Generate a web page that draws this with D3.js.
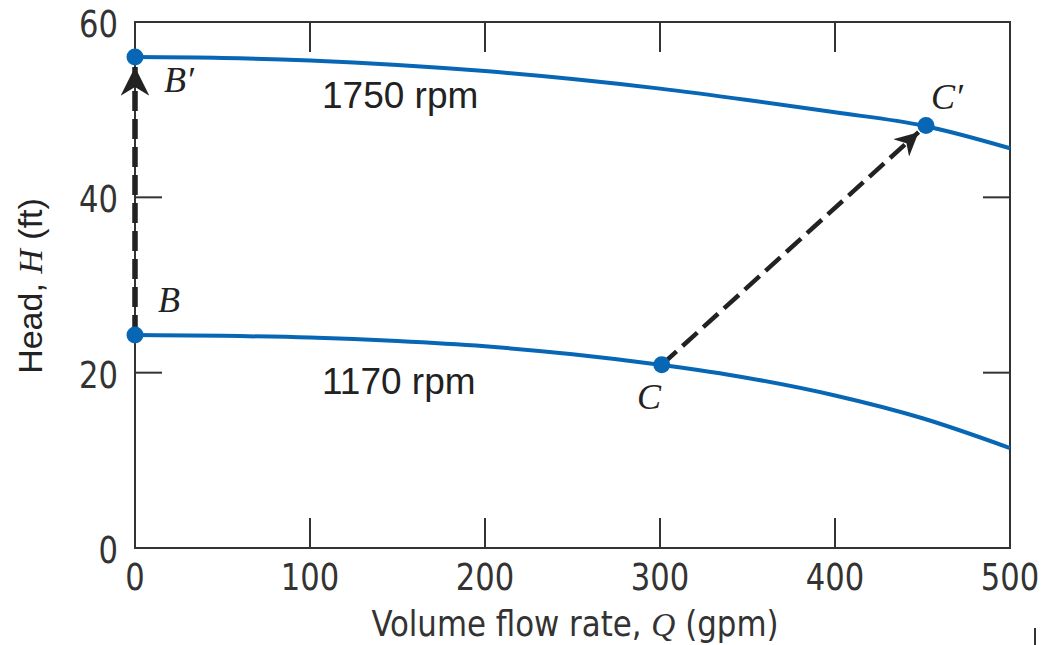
<!DOCTYPE html>
<html>
<head>
<meta charset="utf-8">
<script src="https://cdn.jsdelivr.net/npm/d3@7"></script>
<style>
  body { margin: 0; background: #fff; }
  .narrow { font-family: "Liberation Sans Narrow", "DejaVu Sans Condensed", "Roboto", sans-serif; fill: #333; }
  .ital { font-family: "Liberation Serif", "DejaVu Serif", serif; font-style: italic; }
</style>
</head>
<body>
<div id="chart"></div>
<script>
// Pump head curves at two speeds
var flowQ = [0, 50, 100, 150, 200, 250, 300, 350, 400, 450, 500];
var head1750 = [56.0, 55.9, 55.6, 55.1, 54.4, 53.5, 52.4, 51.1, 49.7, 48.2, 45.6];
var head1170 = [24.3, 24.2, 24.0, 23.6, 23.0, 22.1, 20.9, 19.4, 17.4, 14.8, 11.4];
var xTicks = [0, 100, 200, 300, 400, 500];
var yTicks = [0, 20, 40, 60];
var points = [
  { name: "B", q: 0, h: 24.3 },
  { name: "B\u2032", q: 0, h: 56.0 },
  { name: "C", q: 301, h: 20.9 },
  { name: "C\u2032", q: 452, h: 48.2 }
];

var width = 1048, height = 645;
var mLeft = 135, mRight = 1010, mTop = 22, mBottom = 548;

var svg = d3.select("#chart")
  .append("svg")
    .attr("width", width)
    .attr("height", height)
    .attr("viewBox", [0, 0, width, height]);

var x = d3.scaleLinear().domain([0, 500]).range([mLeft, mRight]);
var y = d3.scaleLinear().domain([0, 60]).range([mBottom, mTop]);

var blue = "#0867b5";
var frameCol = "#333";

// ticks pointing inward, on all four sides
var tickLen = 30;
var tickG = svg.append("g").attr("stroke", frameCol).attr("stroke-width", 2);
xTicks.slice(1, -1).forEach(function(t) {
  tickG.append("line").attr("x1", x(t)).attr("x2", x(t)).attr("y1", mBottom).attr("y2", mBottom - tickLen);
  tickG.append("line").attr("x1", x(t)).attr("x2", x(t)).attr("y1", mTop).attr("y2", mTop + tickLen);
});
yTicks.slice(1, -1).forEach(function(t) {
  tickG.append("line").attr("x1", mLeft).attr("x2", mLeft + 27).attr("y1", y(t)).attr("y2", y(t));
  tickG.append("line").attr("x1", mRight).attr("x2", mRight - 27).attr("y1", y(t)).attr("y2", y(t));
});

// frame
svg.append("rect")
  .attr("x", mLeft).attr("y", mTop)
  .attr("width", mRight - mLeft).attr("height", mBottom - mTop)
  .attr("fill", "none").attr("stroke", frameCol).attr("stroke-width", 2);

// tick labels (narrow face, squeezed a little)
svg.selectAll(".xl").data(xTicks).join("text")
  .attr("class", "narrow")
  .attr("transform", d => "translate(" + x(d) + "," + (mBottom + 42) + ") scale(0.92,1)")
  .attr("text-anchor", "middle")
  .style("font-size", "37px")
  .text(d => d);
svg.selectAll(".yl").data(yTicks).join("text")
  .attr("class", "narrow")
  .attr("transform", d => "translate(" + (mLeft - 17) + "," + (y(d) + 15) + ") scale(0.92,1)")
  .attr("text-anchor", "end")
  .style("font-size", "37px")
  .text(d => d);

// axis titles
var xt = svg.append("text")
  .attr("class", "narrow")
  .attr("transform", "translate(575,636) scale(0.98,1)")
  .attr("text-anchor", "middle")
  .style("font-size", "35px");
xt.append("tspan").text("Volume flow rate, ");
xt.append("tspan").attr("class", "ital").style("font-size", "34px").text("Q");
xt.append("tspan").text(" (gpm)");

var yt = svg.append("text")
  .attr("transform", "translate(42,286) rotate(-90)")
  .attr("text-anchor", "middle")
  .style("font-family", "Liberation Sans, Arial, sans-serif")
  .style("font-size", "34px")
  .attr("fill", "#222");
yt.append("tspan").text("Head, ");
yt.append("tspan").attr("class", "ital").text("H");
yt.append("tspan").text(" (ft)");

// curves
var line = d3.line()
  .x(d => x(d[0]))
  .y(d => y(d[1]))
  .curve(d3.curveMonotoneX);

[head1750, head1170].forEach(function(hs) {
  svg.append("path")
    .datum(flowQ.map((q, i) => [q, hs[i]]))
    .attr("d", line)
    .attr("fill", "none")
    .attr("stroke", blue)
    .attr("stroke-width", 4);
});

// dashed arrows B -> B', C -> C'
svg.append("defs").append("marker")
  .attr("id", "arrow")
  .attr("viewBox", "0 0 10 10")
  .attr("refX", 10).attr("refY", 5)
  .attr("markerWidth", 5.2).attr("markerHeight", 5.2)
  .attr("markerUnits", "strokeWidth")
  .attr("orient", "auto")
  .append("path")
    .attr("d", "M0,0 L10,5 L0,10 L3,5 Z")
    .attr("fill", "#222");

function arrow(a, b, w) {
  var x1 = x(a.q), y1 = y(a.h), x2 = x(b.q), y2 = y(b.h);
  var dx = x2 - x1, dy = y2 - y1, len = Math.sqrt(dx * dx + dy * dy);
  var gap = 10;
  svg.append("line")
    .attr("x1", x1).attr("y1", y1)
    .attr("x2", x2 - dx / len * gap).attr("y2", y2 - dy / len * gap)
    .attr("stroke", "#222")
    .attr("stroke-width", w)
    .attr("stroke-dasharray", "20,8")
    .attr("marker-end", "url(#arrow)");
}
arrow(points[0], points[1], 5.5);
arrow(points[2], points[3], 4.5);

// dots
svg.selectAll(".pt").data(points).join("circle")
  .attr("cx", d => x(d.q)).attr("cy", d => y(d.h))
  .attr("r", 8.5)
  .attr("fill", blue);

// point labels
var labelPos = { "B": [158, 312], "B\u2032": [164, 92], "C": [637, 409], "C\u2032": [931, 109] };
svg.selectAll(".pl").data(points).join("text")
  .attr("class", "ital")
  .attr("x", d => labelPos[d.name][0]).attr("y", d => labelPos[d.name][1])
  .style("font-size", "36px")
  .attr("fill", "#222")
  .text(d => d.name);

// speed labels
svg.selectAll(".rpm").data([["1750 rpm", 108], ["1170 rpm", 394]]).join("text")
  .attr("x", 322).attr("y", d => d[1])
  .style("font-family", "Liberation Sans, Arial, sans-serif")
  .style("font-size", "37px")
  .attr("fill", "#222")
  .text(d => d[0]);

// small stray mark at lower right of the original figure
svg.append("line")
  .attr("x1", 1035).attr("x2", 1035).attr("y1", 628).attr("y2", 645)
  .attr("stroke", "#333").attr("stroke-width", 2);
</script>
</body>
</html>
